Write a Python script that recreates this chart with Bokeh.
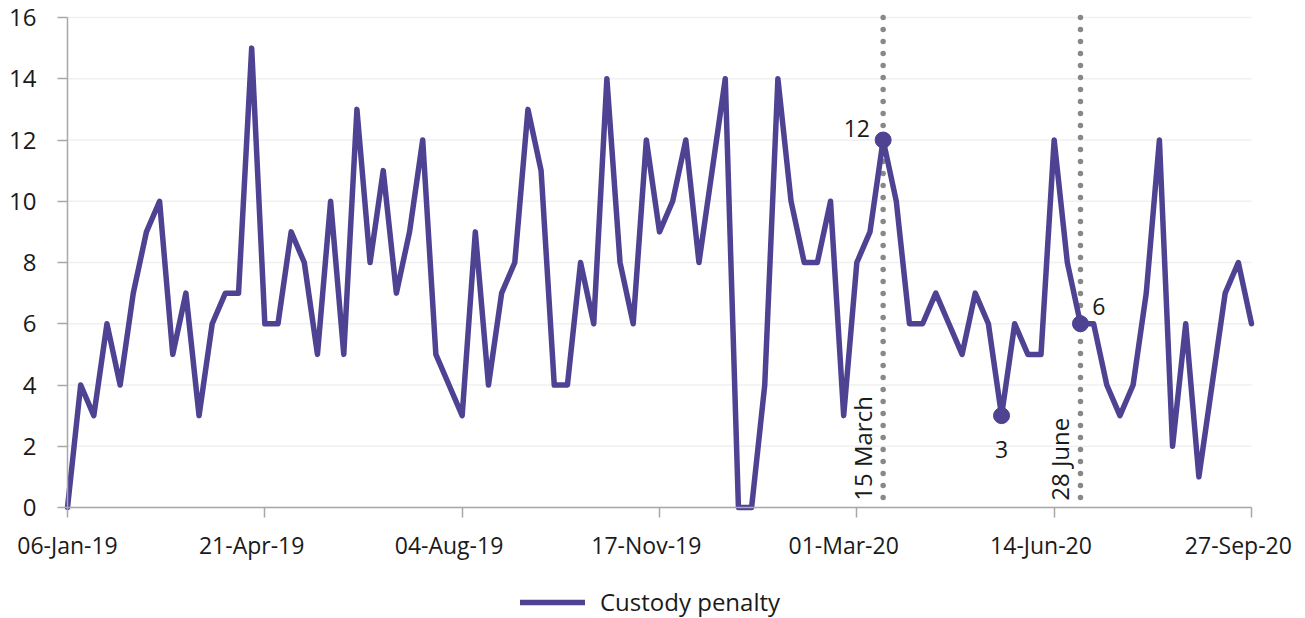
from bokeh.plotting import figure
from bokeh.models import (Range1d, FixedTicker, Legend, LegendItem, LinearAxis,
                          CustomJSTickFormatter)
from bokeh.core.properties import value
from bokeh.embed import file_html
from bokeh.resources import INLINE

# ---- data -------------------------------------------------------------
custody_penalty = [0, 4, 3, 6, 4, 7, 9, 10, 5, 7,
                   3, 6, 7, 7, 15, 6, 6, 9, 8, 5,
                   10, 5, 13, 8, 11, 7, 9, 12, 5, 4,
                   3, 9, 4, 7, 8, 13, 11, 4, 4, 8,
                   6, 14, 8, 6, 12, 9, 10, 12, 8, 11,
                   14, 0, 0, 4, 14, 10, 8, 8, 10, 3,
                   8, 9, 12, 10, 6, 6, 7, 6, 5, 7,
                   6, 3, 6, 5, 5, 12, 8, 6, 6, 4,
                   3, 4, 7, 12, 2, 6, 1, 4, 7, 8, 6]
weeks = list(range(len(custody_penalty)))
tick_weeks = [0, 15, 30, 45, 60, 75, 90]
tick_labels = ["06-Jan-19", "21-Apr-19", "04-Aug-19", "17-Nov-19",
               "01-Mar-20", "14-Jun-20", "27-Sep-20"]
y_ticks = [0, 2, 4, 6, 8, 10, 12, 14, 16]
event_weeks = [62, 77]
event_labels = ["15 March", "28 June"]
highlight_weeks = [62, 71, 77]
highlight_values = [custody_penalty[i] for i in highlight_weeks]

PURPLE = "#4e4292"
FONT = "Open Sans"
TXT = "#1a1a1a"
AXIS_GRAY = "#a8a8a8"

# ---- geometry: the frame fills the canvas; axes are pinned at 0 --------
W, H = 1305, 618
X0_PX, X1_PX = 67, 1251          # pixel columns of first / last week
Y16_PX, Y0_PX = 17, 507          # pixel rows of y = 16 / y = 0
n_weeks = weeks[-1]
ppx = (X1_PX - X0_PX) / n_weeks
ppy = (Y0_PX - Y16_PX) / 16.0
x_range = Range1d(-X0_PX / ppx, n_weeks + (W - X1_PX) / ppx)
y_range = Range1d(-(H - Y0_PX) / ppy, 16 + Y16_PX / ppy)

p = figure(width=W, height=H, output_backend="svg", toolbar_location=None,
           x_range=x_range, y_range=y_range,
           min_border_left=0, min_border_right=0, min_border_top=0,
           min_border_bottom=0)
p.outline_line_color = None
p.xgrid.grid_line_color = None
p.ygrid.grid_line_color = None

# horizontal grid lines, limited to the data span
p.segment(x0=[weeks[0]] * len(y_ticks), x1=[n_weeks] * len(y_ticks),
          y0=y_ticks, y1=y_ticks, line_color="#f0f0f0", line_width=1.5,
          level="underlay")

# y axis
ya = p.yaxis[0]
ya.fixed_location = 0
ya.ticker = FixedTicker(ticks=y_ticks)
ya.bounds = (0, 16)
ya.axis_line_color = AXIS_GRAY
ya.axis_line_width = 1.5
ya.major_tick_line_color = AXIS_GRAY
ya.major_tick_line_width = 1.5
ya.major_tick_in = 0
ya.major_tick_out = 10
ya.minor_tick_line_color = None
ya.major_label_text_font = FONT
ya.major_label_text_font_size = "24px"
ya.major_label_text_color = TXT
ya.major_label_standoff = 21

# x axis: line + tick marks only
xa = p.xaxis[0]
xa.fixed_location = 0
xa.bounds = (0, n_weeks)
xa.ticker = FixedTicker(ticks=tick_weeks)
xa.formatter = CustomJSTickFormatter(code="return ''")
xa.axis_line_color = AXIS_GRAY
xa.axis_line_width = 1.5
xa.major_tick_line_color = AXIS_GRAY
xa.major_tick_line_width = 1.5
xa.major_tick_in = 0
xa.major_tick_out = 10
xa.minor_tick_line_color = None
xa.major_label_standoff = 0

# x axis labels (sit one week-step before each tick, as in the source)
label_pos = [w - 1 if w > 0 else w for w in tick_weeks]
xl = LinearAxis(ticker=FixedTicker(ticks=label_pos), fixed_location=0,
                major_label_overrides={w: l for w, l in zip(label_pos, tick_labels)},
                axis_line_color=None, major_tick_line_color=None,
                minor_tick_line_color=None, major_tick_in=0, major_tick_out=0,
                major_label_standoff=21, major_label_text_font=FONT,
                major_label_text_font_size="23px", major_label_text_color=TXT)
p.add_layout(xl, "below")

# event lines (dotted)
p.segment(x0=event_weeks, y0=[16, 16], x1=event_weeks, y1=[0, 0],
          line_color="#888888", line_width=5.5, line_dash="0 12",
          line_cap="round")

# main line
line = p.line(weeks, custody_penalty, line_color=PURPLE, line_width=5.5,
              line_join="round", line_cap="round")

# highlighted points
p.scatter(highlight_weeks, highlight_values, size=16, color=PURPLE)

# point labels
p.text(x=[highlight_weeks[0] - 1.0], y=[highlight_values[0] + 0.36],
       text=[str(highlight_values[0])], text_font=value(FONT),
       text_font_size="23px", text_color=TXT, text_align="right",
       text_baseline="middle")
p.text(x=[highlight_weeks[1]], y=[highlight_values[1] - 1.1],
       text=[str(highlight_values[1])], text_font=value(FONT),
       text_font_size="23px", text_color=TXT, text_align="center",
       text_baseline="middle")
p.text(x=[highlight_weeks[2] + 0.9], y=[highlight_values[2] + 0.57],
       text=[str(highlight_values[2])], text_font=value(FONT),
       text_font_size="23px", text_color=TXT, text_align="left",
       text_baseline="middle")

# rotated event labels
p.text(x=[w - 1.58 for w in event_weeks], y=[0.22, 0.22], text=event_labels,
       angle=1.5707963, text_font=value(FONT), text_font_size="24px",
       text_color=TXT, text_align="left", text_baseline="middle")

legend = Legend(items=[LegendItem(label="Custody penalty", renderers=[line])],
                location=(520, 0), orientation="horizontal",
                glyph_width=65, glyph_height=20, label_height=20,
                label_standoff=15, padding=0, margin=0, spacing=0,
                border_line_color=None, background_fill_alpha=0,
                label_text_font=FONT, label_text_font_size="24px",
                label_text_color=TXT)
p.add_layout(legend, "center")

open("out.html", "w").write(file_html(p, INLINE))
